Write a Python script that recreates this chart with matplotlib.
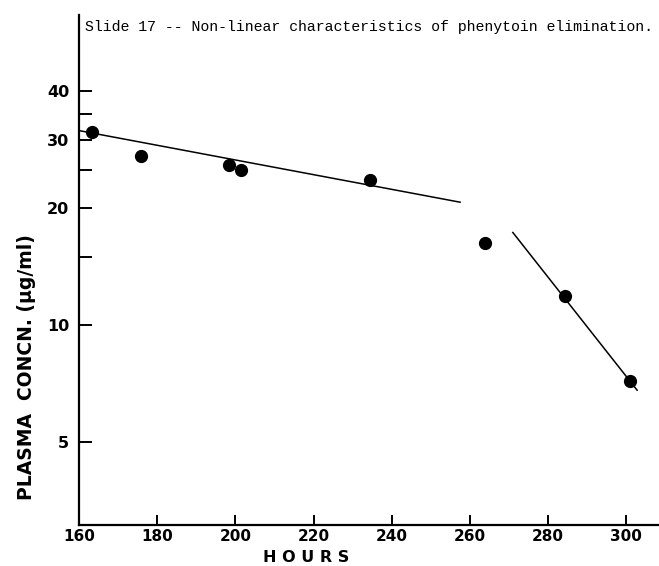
import numpy as np
import matplotlib
matplotlib.use("Agg")
from matplotlib import pyplot as plt
from matplotlib.ticker import FixedLocator, NullFormatter

# phenytoin plasma levels after the last dose
hours = [163.3, 175.9, 198.4, 201.5, 234.5, 263.9, 284.4, 301.0]
concn = [31.3, 27.2, 25.8, 25.0, 23.6, 16.3, 11.9, 7.2]

# hand-fitted lines for the two phases
slow_x = [159.5, 257.5]
slow_y = [31.7, 20.7]
fast_x = [271.0, 302.8]
fast_y = [17.3, 6.8]

x_ticks = [160, 180, 200, 220, 240, 260, 280, 300]
y_ticks = [5, 10, 20, 30, 40]
y_minor = [15, 25, 35]

title = "Slide 17 -- Non-linear characteristics of phenytoin elimination."

fig = plt.figure(figsize=(6.59, 5.66), dpi=100)
ax = fig.add_axes([0.12, 0.0724, 0.88, 0.901])

ax.plot(slow_x, slow_y, color='black', lw=1.1)
ax.plot(fast_x, fast_y, color='black', lw=1.1)
ax.plot(hours, concn, 'o', color='black', ms=8.5)

ax.set_yscale('log')
ax.set_xlim(160, 308.4)
ax.set_ylim(3.06, 62.7)

ax.yaxis.set_major_locator(FixedLocator(y_ticks))
ax.yaxis.set_minor_locator(FixedLocator(y_minor))
ax.yaxis.set_minor_formatter(NullFormatter())
ax.set_yticklabels([str(t) for t in y_ticks])
ax.set_xticks(x_ticks)
ax.set_xticklabels([str(t) for t in x_ticks])

for side in ['top', 'right']:
    ax.spines[side].set_visible(False)
for side in ['left', 'bottom']:
    ax.spines[side].set_linewidth(1.6)

ax.tick_params(axis='y', which='both', direction='in', length=9, width=1.4, pad=7)
ax.tick_params(axis='x', which='major', direction='in', length=7, width=1.4, pad=3)
for lbl in ax.get_xticklabels():
    lbl.set_fontweight('bold')
    lbl.set_fontsize(11)
for lbl in ax.get_yticklabels():
    lbl.set_fontweight('bold')
    lbl.set_fontsize(11.5)

ax.set_xlabel('H O U R S', fontsize=11.5, fontweight='bold')
ax.xaxis.set_label_coords(0.392, -0.064)
ax.xaxis.label.set_va('center')
ax.set_ylabel('PLASMA  CONCN. (\u00b5g/ml)', fontsize=13.5, fontweight='bold')
ax.yaxis.set_label_coords(-0.074, 0.31)

fig.text(0.129, 0.952, title, family='Liberation Mono', fontsize=10.75,
         ha='left', va='center')

fig.savefig('out.png', dpi=100)
